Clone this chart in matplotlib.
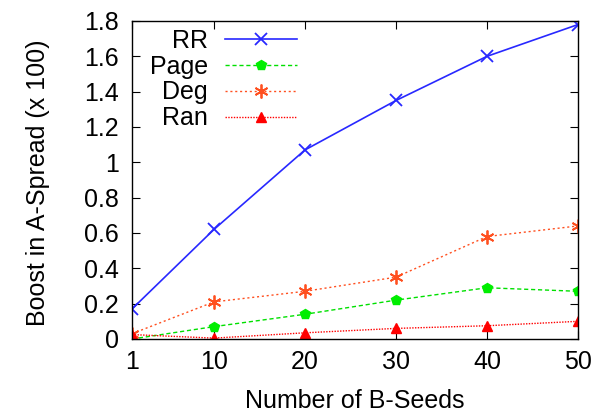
import matplotlib
matplotlib.use("Agg")
import matplotlib.pyplot as plt

seeds = [1, 10, 20, 30, 40, 50]
rr = [0.17, 0.62, 1.07, 1.35, 1.60, 1.78]
page = [0.0, 0.07, 0.14, 0.22, 0.29, 0.27]
deg = [0.03, 0.21, 0.27, 0.35, 0.58, 0.64]
ran = [0.025, 0.005, 0.035, 0.06, 0.075, 0.10]
yticks = [0, 0.2, 0.4, 0.6, 0.8, 1, 1.2, 1.4, 1.6, 1.8]
ylabels = ["0", "0.2", "0.4", "0.6", "0.8", "1", "1.2", "1.4", "1.6", "1.8"]

FS = 18
plt.rcParams['font.family'] = ['Liberation Sans', 'DejaVu Sans']
fig = plt.figure(figsize=(5.97, 4.17), dpi=100)
ax = fig.add_axes([132/597, 1-339/417, (578-132)/597, (339-21)/417])

ax.plot(seeds, rr, color='#2828ff', lw=1.2, marker='x', ms=9, mew=1.3, label='RR')
ax.plot(seeds, page, color='#00e000', lw=1.0, ls=(0, (3, 2)), marker='p', ms=7.5,
        mfc='#00ee00', mec='#00ee00', label='Page')
ax.plot(seeds, deg, color='#ff5020', lw=1.0, ls=(0, (1.5, 2)), marker=(6, 2, 0), ms=10, mew=1.3,
        mec='#ff5020', label='Deg')
ax.plot(seeds, ran, color='#ff0000', lw=1.0, ls=(0, (1, 1)), marker='^', ms=6.5,
        mfc='#ff0000', mec='#ff0000', label='Ran')

ax.set_xlim(1, 50)
ax.set_ylim(0, 1.8)
ax.set_xticks(seeds)
ax.set_yticks(yticks)
ax.set_yticklabels(ylabels)
ax.tick_params(direction='in', top=True, right=True, labelsize=FS, length=6)
ax.tick_params(axis='x', pad=8)
ax.tick_params(axis='y', pad=9.5)
ax.set_xlabel('Number of B-Seeds', fontsize=FS)
ax.set_ylabel('Boost in A-Spread (x 100)', fontsize=FS)
ax.xaxis.set_label_coords(0.5, -(389-339)/318)
ax.yaxis.set_label_coords((50-132)/446, 0.49)
for s in ax.spines.values():
    s.set_linewidth(1.0)

leg = ax.legend(loc='upper right', bbox_to_anchor=((297-132)/446, 1-(29-21)/318),
                frameon=False, markerfirst=False,
                fontsize=FS, handlelength=2.88, labelspacing=0.07, handletextpad=0.68,
                borderaxespad=0, borderpad=0)
for t in leg.get_texts():
    t.set_ha('right')
leg._legend_box.align = 'right'
fig.savefig('out.png', dpi=100)
